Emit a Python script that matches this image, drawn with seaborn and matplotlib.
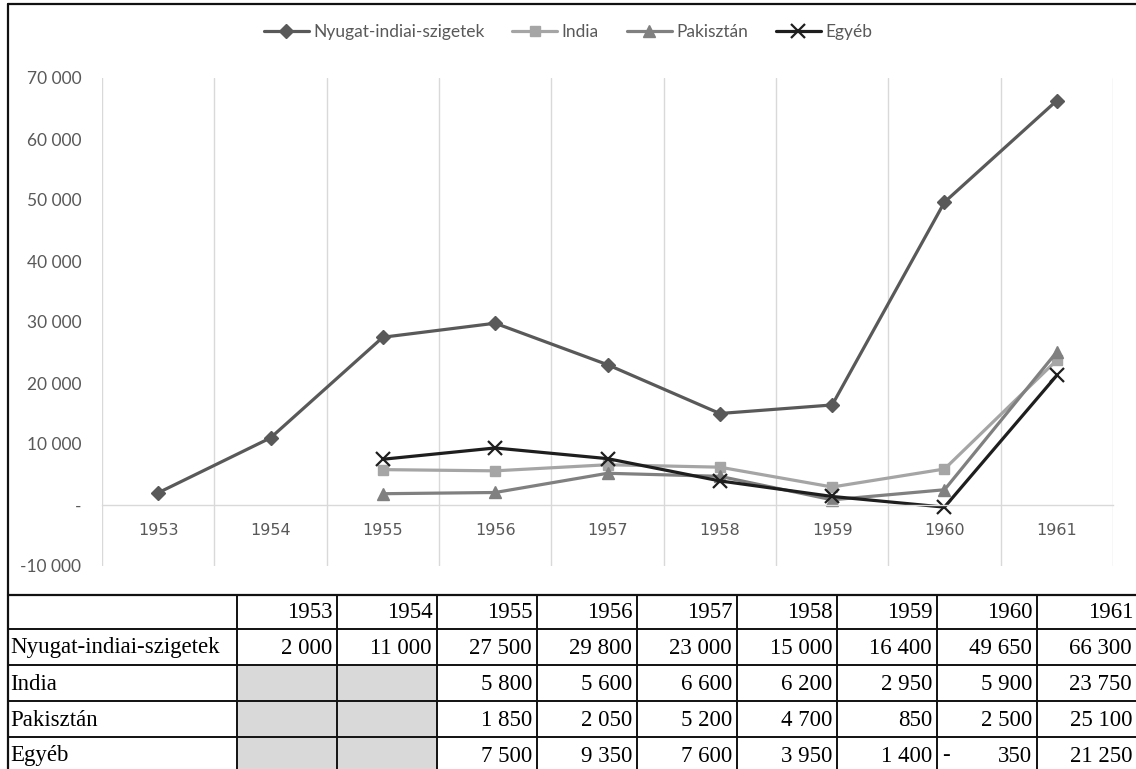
import numpy as np
import pandas as pd
import matplotlib
matplotlib.use("Agg")
import matplotlib.pyplot as plt
import seaborn as sns
from matplotlib.ticker import FuncFormatter, FixedLocator
from matplotlib.lines import Line2D
from matplotlib.patches import Rectangle

# ---------------- data ----------------
years = [1953, 1954, 1955, 1956, 1957, 1958, 1959, 1960, 1961]
nyugat = [2000, 11000, 27500, 29800, 23000, 15000, 16400, 49650, 66300]
india = [np.nan, np.nan, 5800, 5600, 6600, 6200, 2950, 5900, 23750]
pakisztan = [np.nan, np.nan, 1850, 2050, 5200, 4700, 850, 2500, 25100]
egyeb = [np.nan, np.nan, 7500, 9350, 7600, 3950, 1400, -350, 21250]
series_names = ["Nyugat-indiai-szigetek", "India", "Pakisztán", "Egyéb"]
series_values = [nyugat, india, pakisztan, egyeb]
y_ticks = [-10000, 0, 10000, 20000, 30000, 40000, 50000, 60000, 70000]

# ---------------- styles ----------------
colors = ["#595959", "#A5A5A5", "#808080", "#1E1E1E"]
markers = ["D", "s", "^", "x"]
msizes = [7.5, 7.5, 8.5, 10]

W, H = 1136, 769
sns.set_theme(style="white")
plt.rcParams["font.family"] = ["Lato", "DejaVu Sans"]

fig = plt.figure(figsize=(W / 100, H / 100), dpi=100)
fig.patch.set_facecolor("white")

# background axes in pixel coordinates for frame + table
bg = fig.add_axes([0, 0, 1, 1], zorder=0)
bg.set_xlim(0, W)
bg.set_ylim(H, 0)
bg.axis("off")

# main chart axes
left, right, top, bottom = 102, 1113, 78, 566
ax = fig.add_axes([left / W, 1 - bottom / H, (right - left) / W, (bottom - top) / H], zorder=2)
ax.set_facecolor("none")

x_idx = np.arange(len(years))
for name, vals, c, m, ms in zip(series_names, series_values, colors, markers, msizes):
    df = pd.DataFrame({"x": x_idx, "y": vals}).dropna()
    sns.lineplot(data=df, x="x", y="y", ax=ax, color=c, marker=m, markersize=ms,
                 markeredgecolor=c, markerfacecolor=c,
                 markeredgewidth=1.6 if m == "x" else 1.0,
                 linewidth=2.3, label=name, legend=False, estimator=None, sort=False)

ax.set_xlim(-0.5, len(years) - 0.5)
ax.set_ylim(-10000, 70000)
ax.set_xlabel("")
ax.set_ylabel("")
for s in ["top", "right", "left"]:
    ax.spines[s].set_visible(False)
ax.spines["bottom"].set_position(("data", 0))
ax.spines["bottom"].set_color("#D9D9D9")
ax.spines["bottom"].set_linewidth(1.0)

ax.set_xticks(x_idx)
ax.set_xticklabels([str(y) for y in years], fontfamily="DejaVu Sans", fontsize=11.5, color="#595959")
ax.xaxis.set_minor_locator(FixedLocator(np.arange(-0.5, len(years), 1)))
ax.grid(which="minor", axis="x", color="#D9D9D9", linewidth=1.0)
ax.grid(which="major", axis="both", visible=False)
ax.tick_params(axis="x", which="both", length=0, pad=13)

ax.set_yticks(y_ticks)
ax.yaxis.set_major_formatter(FuncFormatter(lambda v, p: "-" if v == 0 else f"{int(v):,}".replace(",", " ")))
ax.tick_params(axis="y", length=0, pad=15, labelsize=12.5, labelcolor="#595959")

# legend
handles = [Line2D([0], [0], color=c, marker=m, markersize=ms, markeredgecolor=c,
                  markerfacecolor=c, markeredgewidth=1.6 if m == "x" else 1.0, linewidth=2.3)
           for c, m, ms in zip(colors, markers, msizes)]
leg = ax.legend(handles, series_names, loc="center", bbox_to_anchor=(568 / W, 1 - 32 / H),
                bbox_transform=fig.transFigure, ncol=4, frameon=False, fontsize=12.5,
                handlelength=2.6, handletextpad=0.25, columnspacing=1.6)
for t in leg.get_texts():
    t.set_color("#595959")

# ---------------- frame ----------------
lc = "#111111"
bg.plot([8, W], [4, 4], color=lc, lw=1.6)
bg.plot([8, 8], [4, H], color=lc, lw=1.6)
bg.plot([8, W], [595, 595], color=lc, lw=1.6)

# ---------------- table ----------------
row_lines = [595, 629, 665, 701, 737, 773]
col_left = 237
col_w = 100
for yl in row_lines[1:-1]:
    bg.plot([8, W], [yl, yl], color=lc, lw=1.4)
for i in range(len(years)):
    xl = col_left + i * col_w
    bg.plot([xl, xl], [595, H], color=lc, lw=1.4)

# grey cells where data missing
for r, vals in enumerate(series_values):
    for i, v in enumerate(vals):
        if np.isnan(v):
            y0 = row_lines[r + 1]
            bg.add_patch(Rectangle((col_left + i * col_w + 1, y0 + 1), col_w - 2, row_lines[r + 2] - y0 - 2,
                                   facecolor="#D9D9D9", edgecolor="none", zorder=0))

tfont = dict(fontfamily="Liberation Serif", fontsize=16.5, color="black", va="center")
# header
yc = (row_lines[0] + row_lines[1]) / 2 + 1
for i, yr in enumerate(years):
    bg.text(col_left + (i + 1) * col_w - 4, yc, str(yr), ha="right", **tfont)
# rows
for r, (name, vals) in enumerate(zip(series_names, series_values)):
    yc = (row_lines[r + 1] + row_lines[r + 2]) / 2 + 1
    bg.text(10, yc, name, ha="left", **tfont)
    for i, v in enumerate(vals):
        if np.isnan(v):
            continue
        xr = col_left + (i + 1) * col_w - 5
        if v < 0:
            bg.text(col_left + i * col_w + 5, yc, "-", ha="left", **tfont)
            s = f"{int(-v):,}".replace(",", " ")
        else:
            s = f"{int(v):,}".replace(",", " ")
        bg.text(xr, yc, s, ha="right", **tfont)

fig.savefig("out.png", dpi=100, facecolor="white")
